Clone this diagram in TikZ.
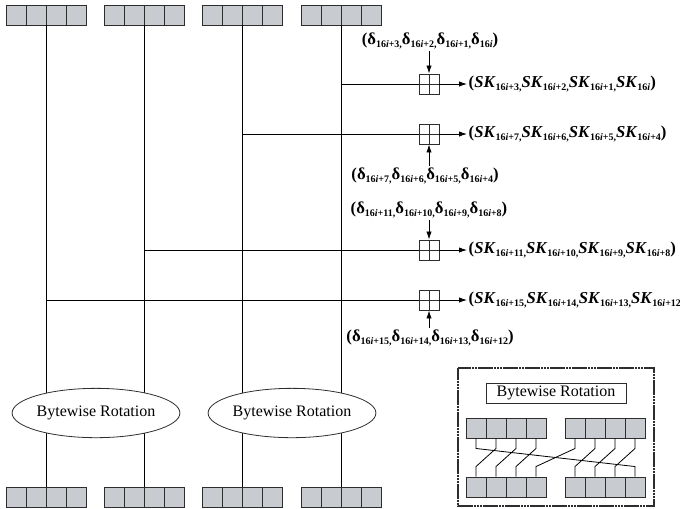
\documentclass[tikz,border=0pt]{standalone}
\usepackage{fontspec}
\setmainfont{Liberation Serif}
\usetikzlibrary{arrows.meta,calc,shapes.geometric}
\definecolor{cellgray}{RGB}{200,203,207}
\definecolor{linegray}{RGB}{45,45,45}
\newcommand\idxsub[1]{\raisebox{-0.4ex}{\fontsize{7.5}{8}\selectfont 16\textit{i}#1}}
\tikzset{
    cell/.style={rectangle, draw=linegray, fill=cellgray, minimum size=15pt, inner sep=0pt, line width=0.7pt},
    xorbox/.style={rectangle, draw=linegray, minimum size=15pt, inner sep=0pt, line width=0.7pt,
        path picture={\draw[linegray, line width=0.6pt]
            (path picture bounding box.north) -- (path picture bounding box.south)
            (path picture bounding box.west) -- (path picture bounding box.east);}},
    rotation/.style={ellipse, draw=linegray, fill=white, minimum width=118pt, minimum height=37pt, inner sep=0pt, line width=0.6pt},
    titlebox/.style={rectangle, draw=linegray, fill=white, minimum width=105pt, minimum height=15pt, inner sep=0pt, line width=0.6pt},
    lbl/.style={inner sep=1pt, font=\fontsize{12.5}{14}\selectfont\bfseries},
    arr/.style={-{Latex[length=6pt,width=4pt]}, line width=0.6pt},
    insetframe/.style={draw=linegray, line width=1.3pt, dash pattern=on 2pt off 0.35pt}
}
\begin{document}
\begin{tikzpicture}[x=0.75pt, y=-0.75pt, line width=0.6pt, font=\fontsize{12}{14}\selectfont]
    \useasboundingbox (0,0) rectangle (680,508);
    % Registers
    \foreach \r/\x in {1/6,2/104,3/202,4/301}
        \foreach \k in {1,...,4} {
            \node[cell] (t\r\k) at (\x+20*\k-10,15) {};
            \node[cell] (b\r\k) at (\x+20*\k-10,497) {};
        }
    % Word lines
    \foreach \r in {1,...,4}
        \draw (t\r2.south east) -- (b\r2.north east);
    % Key additions
    \node[xorbox] (x1) at (429,84) {};
    \node[xorbox] (x2) at (429,134) {};
    \node[xorbox] (x3) at (429,250) {};
    \node[xorbox] (x4) at (429,300) {};
    \draw (x1 -| t42.south east) -- (x1);
    \draw (x2 -| t32.south east) -- (x2);
    \draw (x3 -| t22.south east) -- (x3);
    \draw (x4 -| t12.south east) -- (x4);
    % Constants
    \node[lbl] (d1) at (430,41) {(δ\idxsub{+3,}δ\idxsub{+2,}δ\idxsub{+1,}δ\idxsub{})};
    \node[lbl] (d2) at (425,176) {(δ\idxsub{+7,}δ\idxsub{+6,}δ\idxsub{+5,}δ\idxsub{+4})};
    \node[lbl] (d3) at (429,210) {(δ\idxsub{+11,}δ\idxsub{+10,}δ\idxsub{+9,}δ\idxsub{+8})};
    \node[lbl] (d4) at (430,338) {(δ\idxsub{+15,}δ\idxsub{+14,}δ\idxsub{+13,}δ\idxsub{+12})};
    \draw[arr] (d1.south -| x1) -- (x1.north);
    \draw[arr] (d2.north -| x2) -- (x2.south);
    \draw[arr] (d3.south -| x3) -- (x3.north);
    \draw[arr] (d4.north -| x4) -- (x4.south);
    % Subkeys
    \node[lbl, anchor=west] (k1) at (467,84) {(\textit{SK}\idxsub{+3,}\textit{SK}\idxsub{+2,}\textit{SK}\idxsub{+1,}\textit{SK}\idxsub{})};
    \node[lbl, anchor=west] (k2) at (467,134) {(\textit{SK}\idxsub{+7,}\textit{SK}\idxsub{+6,}\textit{SK}\idxsub{+5,}\textit{SK}\idxsub{+4})};
    \node[lbl, anchor=west] (k3) at (467,250) {(\textit{SK}\idxsub{+11,}\textit{SK}\idxsub{+10,}\textit{SK}\idxsub{+9,}\textit{SK}\idxsub{+8})};
    \node[lbl, anchor=west] (k4) at (467,300) {(\textit{SK}\idxsub{+15,}\textit{SK}\idxsub{+14,}\textit{SK}\idxsub{+13,}\textit{SK}\idxsub{+12})};
    \foreach \i in {1,...,4}
        \draw[arr] (x\i) -- (k\i);
    % Rotations
    \node[rotation] (rot1) at (96,413) {Bytewise Rotation};
    \node[rotation] (rot2) at (292,413) {Bytewise Rotation};
    % Inset
    \draw[insetframe] (458,368) rectangle (654,506);
    \node[titlebox] (title) at (556,393) {Bytewise Rotation};
    \foreach \k/\x in {1/476,2/496,3/516,4/536,5/575,6/595,7/615,8/635} {
        \node[cell] (u\k) at (\x,428) {};
        \node[cell] (l\k) at (\x,487) {};
    }
    \foreach \s/\d in {1/8,2/1,3/2,4/3,5/4,6/5,7/6,8/7}
        \draw (u\s.south) -- ++(0,10) -- ($(l\d.north)+(0,-10)$) -- (l\d.north);
\end{tikzpicture}
\end{document}
